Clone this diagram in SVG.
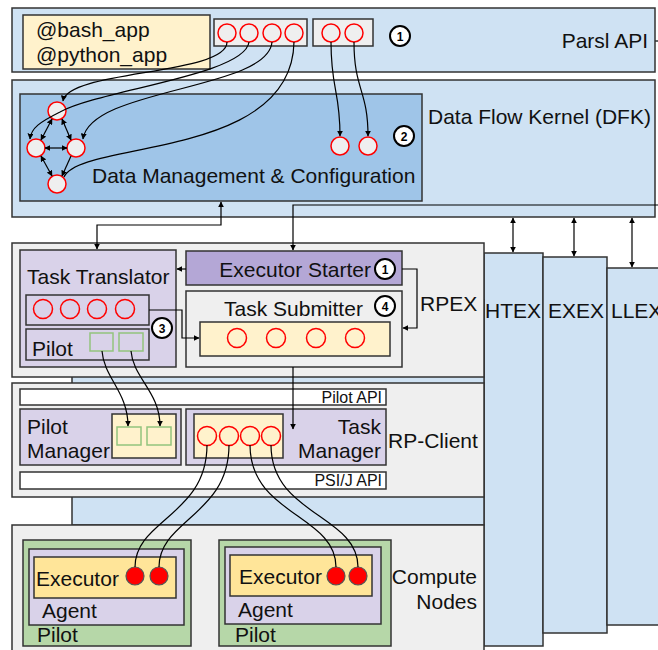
<svg xmlns="http://www.w3.org/2000/svg" width="658" height="650" viewBox="0 0 658 650">
<defs>
<marker id="ah" viewBox="0 0 10 10" refX="9" refY="5" markerWidth="6" markerHeight="6" orient="auto-start-reverse" markerUnits="userSpaceOnUse"><path d="M0,0 L10,5 L0,10 z" fill="#000"/></marker>
<style>
.box{stroke:#333;stroke-width:1.5}
.lb{fill:#cfe2f3}
.db{fill:#9fc5e8}
.gr{fill:#efefef}
.cr{fill:#fff2cc}
.pu{fill:#d9d2e9}
.pd{fill:#b4a7d6}
.gn{fill:#b6d7a8}
.yl{fill:#ffe599}
.wh{fill:#fff}
.t{font-family:"Liberation Sans",Arial,sans-serif;font-size:21px;fill:#111}
.s{font-family:"Liberation Sans",Arial,sans-serif;font-size:16px;fill:#111}
.n{font-family:"Liberation Sans",Arial,sans-serif;font-size:12px;font-weight:bold;fill:#000;text-anchor:middle}
.r{text-anchor:end}
.rc{fill:#efefef;stroke:#f00;stroke-width:1.5}
.ro{fill:none;stroke:#f00;stroke-width:1.5}
.rd{fill:#f00;stroke:#555;stroke-width:1.2}
.sq{fill:none;stroke:#93c47d;stroke-width:1.5}
.num{fill:#fff;stroke:#000;stroke-width:2}
.c{fill:none;stroke:#000;stroke-width:1.2}
</style>
</defs>

<!-- executors columns -->
<g id="htex"><rect class="box lb" x="484" y="253" width="59" height="393"/><text class="t" x="485" y="318">HTEX</text></g>
<g id="exex"><rect class="box lb" x="543" y="257" width="64" height="376"/><text class="t" x="548" y="318">EXEX</text></g>
<g id="llex"><rect class="box lb" x="607" y="268" width="55" height="357"/><text class="t" x="611" y="318">LLEX</text></g>
<rect class="box lb" x="72" y="300" width="412" height="225"/>

<g id="parsl-api">
<rect class="box lb" x="12" y="8" width="643" height="64"/>
<line x1="655" y1="41" x2="658" y2="41" stroke="#333" stroke-width="1.5"/>
<text class="t r" x="648" y="48">Parsl API</text>
<rect class="box cr" x="23" y="15" width="187" height="54"/>
<text class="t" x="36" y="37">@bash_app</text>
<text class="t" x="36" y="62">@python_app</text>
<rect class="box gr" x="214" y="19" width="93" height="27"/>
<circle class="rc" cx="227" cy="33" r="9"/><circle class="rc" cx="249" cy="33" r="9"/><circle class="rc" cx="272" cy="33" r="9"/><circle class="rc" cx="294" cy="33" r="9"/>
<rect class="box gr" x="313" y="19" width="60" height="27"/>
<circle class="rc" cx="331" cy="33" r="9"/><circle class="rc" cx="354" cy="33" r="9"/>
<circle class="num" cx="400" cy="36" r="10"/><text class="n" x="400" y="40.5">1</text>
</g>

<g id="dfk">
<rect class="box lb" x="12" y="80" width="643" height="137"/>
<text class="t" x="428" y="124">Data Flow Kernel (DFK)</text>
<rect class="box db" x="20" y="94" width="402" height="107"/>
<text class="t" x="92" y="183">Data Management &amp; Configuration</text>
<circle class="num" cx="404" cy="136" r="10"/><text class="n" x="404" y="140.5">2</text>
<circle class="rc" cx="57" cy="111" r="9"/><circle class="rc" cx="36" cy="148" r="9"/><circle class="rc" cx="76" cy="148" r="9"/><circle class="rc" cx="57" cy="184" r="9"/>
<circle class="rc" cx="340" cy="146" r="9"/><circle class="rc" cx="368" cy="146" r="9"/>
</g>

<g id="rpex">
<rect class="box gr" x="12" y="243" width="472" height="134"/>
<text class="t" x="420" y="311">RPEX</text>
</g>
<g id="task-translator">
<rect class="box pu" x="20" y="250" width="156" height="117"/>
<text class="t" x="27" y="284">Task Translator</text>
<rect class="box pu" x="26" y="295" width="123" height="30"/>
<circle class="ro" cx="43" cy="309" r="9.5"/><circle class="ro" cx="70" cy="309" r="9.5"/><circle class="ro" cx="97" cy="309" r="9.5"/><circle class="ro" cx="125" cy="309" r="9.5"/>
<rect class="box pu" x="26" y="329" width="123" height="31"/>
<text class="t" x="32" y="356">Pilot</text>
<rect class="sq" x="90" y="333" width="23" height="18"/><rect class="sq" x="119" y="333" width="24" height="18"/>
<circle class="num" cx="162" cy="328" r="10"/><text class="n" x="162" y="332.5">3</text>
</g>
<g id="executor-starter">
<rect class="box pd" x="186" y="251" width="216" height="34"/>
<text class="t r" x="371" y="277">Executor Starter</text>
<circle class="num" cx="385" cy="269" r="10"/><text class="n" x="385" y="273.5">1</text>
</g>
<g id="task-submitter">
<rect class="box gr" x="186" y="291" width="216" height="76"/>
<text class="t" x="224" y="316">Task Submitter</text>
<circle class="num" cx="385" cy="306" r="10"/><text class="n" x="385" y="310.5">4</text>
<rect class="box cr" x="200" y="322" width="190" height="34"/>
<circle class="ro" cx="237" cy="338" r="9.5"/><circle class="ro" cx="276" cy="338" r="9.5"/><circle class="ro" cx="316" cy="338" r="9.5"/><circle class="ro" cx="355" cy="338" r="9.5"/>
</g>

<g id="rp-client">
<rect class="box gr" x="12" y="383" width="472" height="114"/>
<text class="t" x="388" y="448">RP-Client</text>
<rect class="box wh" x="20" y="389" width="366" height="16"/>
<text class="s r" x="382" y="403">Pilot API</text>
<rect class="box wh" x="20" y="472" width="366" height="17"/>
<text class="s r" x="382" y="486">PSI/J API</text>
</g>
<g id="pilot-manager">
<rect class="box pu" x="20" y="409" width="161" height="56"/>
<text class="t" x="27" y="434">Pilot</text>
<text class="t" x="27" y="458">Manager</text>
<rect class="box cr" x="112" y="414" width="64" height="44"/>
<rect class="sq" x="117" y="427" width="24" height="18"/><rect class="sq" x="147" y="427" width="24" height="18"/>
</g>
<g id="task-manager">
<rect class="box pu" x="186" y="409" width="200" height="56"/>
<text class="t r" x="381" y="434">Task</text>
<text class="t r" x="381" y="458">Manager</text>
<rect class="box cr" x="194" y="414" width="89" height="44"/>
<circle class="ro" cx="207" cy="436" r="9.5"/><circle class="ro" cx="229" cy="436" r="9.5"/><circle class="ro" cx="250" cy="436" r="9.5"/><circle class="ro" cx="271" cy="436" r="9.5"/>
</g>

<g id="compute-nodes">
<rect class="box gr" x="12" y="525" width="472" height="130"/>
<text class="t r" x="477" y="584">Compute</text>
<text class="t r" x="477" y="609">Nodes</text>
</g>
<g id="pilot-1">
<rect class="box gn" x="23" y="540" width="168" height="106"/>
<rect class="box pu" x="29" y="549" width="155" height="76"/>
<rect class="box yl" x="34" y="557" width="142" height="41"/>
<text class="t" x="36" y="586">Executor</text>
<text class="t" x="42" y="618">Agent</text>
<text class="t" x="37" y="642">Pilot</text>
<circle class="rd" cx="135" cy="576" r="9"/><circle class="rd" cx="159" cy="576" r="9"/>
</g>
<g id="pilot-2">
<rect class="box gn" x="219" y="540" width="172" height="106"/>
<rect class="box pu" x="225" y="547" width="156" height="77"/>
<rect class="box yl" x="230" y="555" width="142" height="41"/>
<text class="t" x="239" y="584">Executor</text>
<text class="t" x="238" y="617">Agent</text>
<text class="t" x="235" y="642">Pilot</text>
<circle class="rd" cx="336" cy="576" r="9"/><circle class="rd" cx="358" cy="576" r="9"/>
</g>

<g id="connectors">
<!-- API to DAG -->
<path class="c" d="M227,42 C227,75 68,70 63,101" marker-end="url(#ah)"/>
<path class="c" d="M249,42 C245,75 100,90 60,112 C40,122 31,128 30,139" marker-end="url(#ah)"/>
<path class="c" d="M272,42 C268,90 90,88 83,139" marker-end="url(#ah)"/>
<path class="c" d="M294,42 C292,160 80,140 64,177"/>
<path class="c" d="M331,42 C331,90 340,90 340,136" marker-end="url(#ah)"/>
<path class="c" d="M354,42 C354,90 368,90 368,136" marker-end="url(#ah)"/>
<!-- DAG edges -->
<line class="c" x1="52" y1="119" x2="41" y2="140" marker-start="url(#ah)" marker-end="url(#ah)"/>
<line class="c" x1="62" y1="119" x2="71" y2="140" marker-start="url(#ah)" marker-end="url(#ah)"/>
<line class="c" x1="45" y1="148" x2="67" y2="148" marker-start="url(#ah)" marker-end="url(#ah)"/>
<line class="c" x1="41" y1="156" x2="52" y2="176" marker-start="url(#ah)" marker-end="url(#ah)"/>
<line class="c" x1="71" y1="156" x2="62" y2="176" marker-end="url(#ah)"/>
<!-- DFK to RPEX -->
<path class="c" d="M97,249 L97,225 L221,225 L221,202" marker-start="url(#ah)" marker-end="url(#ah)"/>
<path class="c" d="M658,205 L293,205 L293,250" marker-end="url(#ah)"/>
<line class="c" x1="513" y1="218" x2="513" y2="252" marker-start="url(#ah)" marker-end="url(#ah)"/>
<line class="c" x1="574" y1="218" x2="574" y2="256" marker-start="url(#ah)" marker-end="url(#ah)"/>
<line class="c" x1="632" y1="218" x2="632" y2="267" marker-start="url(#ah)" marker-end="url(#ah)"/>
<!-- inside RPEX -->
<line class="c" x1="186" y1="269" x2="177" y2="269" marker-end="url(#ah)"/>
<path class="c" d="M402,269 L417,269 L417,328 L403,328" marker-end="url(#ah)"/>
<path class="c" d="M149,310 L182,310 L182,338 L199,338" marker-end="url(#ah)"/>
<line class="c" x1="293" y1="367" x2="293" y2="429" marker-end="url(#ah)"/>
<!-- pilots -->
<path class="c" d="M102,351 C104,378 128,392 128,426" marker-end="url(#ah)"/>
<path class="c" d="M131,351 C133,378 160,392 160,426" marker-end="url(#ah)"/>
<!-- tasks to executors -->
<path class="c" d="M207,445 C207,515 135,520 135,567"/>
<path class="c" d="M229,445 C229,515 159,520 159,567"/>
<path class="c" d="M250,445 C250,515 336,515 336,567"/>
<path class="c" d="M271,445 C271,515 358,515 358,567"/>
</g>
</svg>
